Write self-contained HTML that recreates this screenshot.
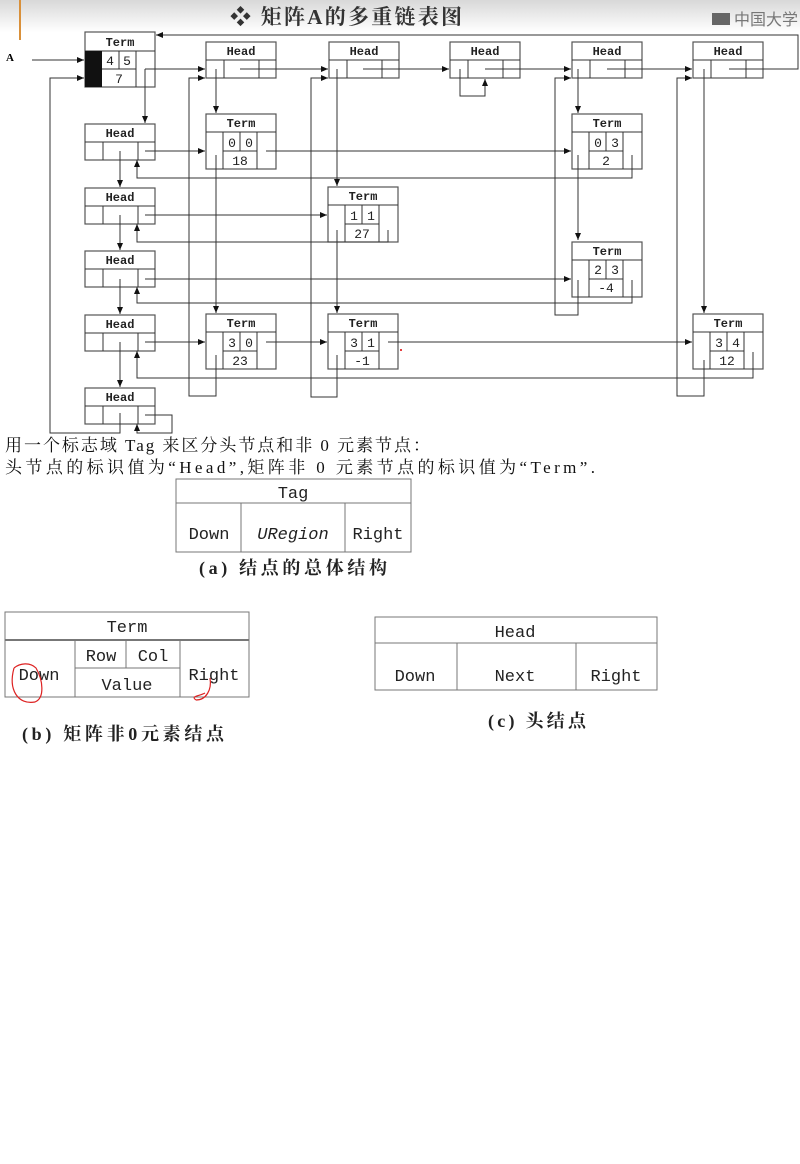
<!DOCTYPE html>
<html><head><meta charset="utf-8"><style>
body{margin:0;background:#fff;width:800px;height:1164px;overflow:hidden}
svg{display:block}
.n{fill:#fff;stroke:#555;stroke-width:1.2}
.l{stroke:#333;stroke-width:1;fill:none}
.t{font-family:"Liberation Mono",monospace;font-weight:bold;font-size:12px;fill:#222;text-anchor:middle}
.v{font-family:"Liberation Mono",monospace;font-size:13px;fill:#222;text-anchor:middle}
.cj{font-family:"Liberation Serif","Noto Serif CJK SC",serif;font-size:17px;fill:#111}
.tb{font-family:"Liberation Mono",monospace;font-size:17px;fill:#222;text-anchor:middle}
.cap{font-family:"Liberation Serif","Noto Serif CJK SC",serif;font-weight:bold;font-size:18px;fill:#222}
</style></head><body>
<svg width="800" height="1164" viewBox="0 0 800 1164" xmlns="http://www.w3.org/2000/svg">
<defs>
<linearGradient id="g" x1="0" y1="0" x2="0" y2="1"><stop offset="0" stop-color="#d8d8d8"/><stop offset="1" stop-color="#fff"/></linearGradient>
<marker id="a" markerWidth="8" markerHeight="8" refX="7" refY="4" orient="auto" markerUnits="userSpaceOnUse"><path d="M0,1 L7,4 L0,7z" fill="#111"/></marker>
</defs>
<rect x="0" y="0" width="800" height="32" fill="url(#g)"/>
<rect x="19" y="0" width="2" height="40" fill="#d9903a"/>
<text x="230" y="24" font-family="Liberation Serif,'Noto Serif CJK SC',serif" font-size="21" font-weight="bold" fill="#333" textLength="232">❖ 矩阵A的多重链表图</text>
<rect x="712" y="13" width="18" height="12" fill="#666"/>
<text x="734" y="25" font-family="'Noto Sans CJK SC',sans-serif" font-size="16" fill="#777">中国大学</text>
<text x="6" y="61" font-family="Liberation Serif,serif" font-weight="bold" font-size="11">A</text>

<rect class="n" x="85" y="32" width="70" height="55"/>
<line class="l" x1="85" y1="51" x2="155" y2="51"/>
<rect x="85" y="51" width="17" height="36" fill="#111"/>
<line class="l" x1="136" y1="51" x2="136" y2="87"/><line class="l" x1="102" y1="69" x2="136" y2="69"/><line class="l" x1="119" y1="51" x2="119" y2="69"/>
<text class="t" x="120" y="46">Term</text><text class="v" x="110" y="65">4</text><text class="v" x="127" y="65">5</text><text class="v" x="119" y="83">7</text>

<g id="h">
<rect class="n" x="206" y="42" width="70" height="36"/>
<line class="l" x1="206" y1="60" x2="276" y2="60"/><line class="l" x1="224" y1="60" x2="224" y2="78"/><line class="l" x1="259" y1="60" x2="259" y2="78"/>
<text class="t" x="241" y="55">Head</text>
</g>
<use href="#h" x="123"/><use href="#h" x="244"/><use href="#h" x="366"/><use href="#h" x="487"/>
<use href="#h" x="-121" y="82"/><use href="#h" x="-121" y="146"/><use href="#h" x="-121" y="209"/><use href="#h" x="-121" y="273"/><use href="#h" x="-121" y="346"/>

<g id="tm">
<rect class="n" x="206" y="114" width="70" height="55"/>
<line class="l" x1="206" y1="132" x2="276" y2="132"/><line class="l" x1="223" y1="132" x2="223" y2="169"/><line class="l" x1="257" y1="132" x2="257" y2="169"/>
<line class="l" x1="223" y1="151" x2="257" y2="151"/><line class="l" x1="240" y1="132" x2="240" y2="151"/>
<text class="t" x="241" y="127">Term</text>
</g>
<use href="#tm" x="366"/><use href="#tm" x="122" y="73"/><use href="#tm" x="366" y="128"/><use href="#tm" y="200"/><use href="#tm" x="122" y="200"/><use href="#tm" x="487" y="200"/>
<g class="v">
<text x="232" y="147">0</text><text x="249" y="147">0</text><text x="240" y="165">18</text>
<text x="598" y="147">0</text><text x="615" y="147">3</text><text x="606" y="165">2</text>
<text x="354" y="220">1</text><text x="371" y="220">1</text><text x="362" y="238">27</text>
<text x="598" y="274">2</text><text x="615" y="274">3</text><text x="606" y="292">-4</text>
<text x="232" y="347">3</text><text x="249" y="347">0</text><text x="240" y="365">23</text>
<text x="354" y="347">3</text><text x="371" y="347">1</text><text x="362" y="365">-1</text>
<text x="719" y="347">3</text><text x="736" y="347">4</text><text x="727" y="365">12</text>
</g>
<circle cx="401" cy="350" r="1" fill="#d00"/>

<g class="l">
<path d="M32,60 H84" marker-end="url(#a)"/>
<path d="M120,413 V433 H50 V78 H84" marker-end="url(#a)"/>
<path d="M145,69 H205" marker-end="url(#a)"/>
<path d="M145,69 V123" marker-end="url(#a)"/>
<path d="M240,69 H328" marker-end="url(#a)"/>
<path d="M363,69 H449" marker-end="url(#a)"/>
<path d="M485,69 H571" marker-end="url(#a)"/>
<path d="M607,69 H692" marker-end="url(#a)"/>
<path d="M729,69 H798 V35 H156" marker-end="url(#a)"/>
<path d="M460,69 V96 H485 V79" marker-end="url(#a)"/>
<path d="M216,355 V396 H189 V78 H205" marker-end="url(#a)"/>
<path d="M337,355 V397 H311 V78 H328" marker-end="url(#a)"/>
<path d="M578,280 V315 H555 V78 H571" marker-end="url(#a)"/>
<path d="M704,360 V396 H677 V78 H692" marker-end="url(#a)"/>
<path d="M216,69 V113" marker-end="url(#a)"/>
<path d="M216,155 V313" marker-end="url(#a)"/>
<path d="M337,69 V186" marker-end="url(#a)"/>
<path d="M337,230 V313" marker-end="url(#a)"/>
<path d="M578,69 V113" marker-end="url(#a)"/>
<path d="M578,155 V240" marker-end="url(#a)"/>
<path d="M704,69 V313" marker-end="url(#a)"/>
<path d="M145,151 H205" marker-end="url(#a)"/>
<path d="M266,151 H571" marker-end="url(#a)"/>
<path d="M632,155 V178 H137 V160" marker-end="url(#a)"/>
<path d="M145,215 H327" marker-end="url(#a)"/>
<path d="M388,230 V242 H137 V224" marker-end="url(#a)"/>
<path d="M145,279 H571" marker-end="url(#a)"/>
<path d="M632,280 V303 H137 V287" marker-end="url(#a)"/>
<path d="M145,342 H205" marker-end="url(#a)"/>
<path d="M266,342 H327" marker-end="url(#a)"/>
<path d="M388,342 H692" marker-end="url(#a)"/>
<path d="M753,352 V378 H137 V351" marker-end="url(#a)"/>
<path d="M145,415 H172 V433 H137 V424" marker-end="url(#a)"/>
<path d="M120,151 V187" marker-end="url(#a)"/>
<path d="M120,215 V250" marker-end="url(#a)"/>
<path d="M120,279 V314" marker-end="url(#a)"/>
<path d="M120,342 V387" marker-end="url(#a)"/>
</g>

<text class="cj" x="5" y="451" textLength="425">用一个标志域 Tag 来区分头节点和非 0 元素节点：</text>
<text class="cj" x="5" y="473" textLength="590">头节点的标识值为“Head”,矩阵非 0 元素节点的标识值为“Term”.</text>

<g class="l" style="stroke:#777">
<rect x="176" y="479" width="235" height="73"/><line x1="176" y1="503" x2="411" y2="503"/><line x1="241" y1="503" x2="241" y2="552"/><line x1="345" y1="503" x2="345" y2="552"/>
</g>
<text class="tb" x="293" y="498">Tag</text><text class="tb" x="209" y="539">Down</text><text class="tb" x="293" y="539" font-style="italic">URegion</text><text class="tb" x="378" y="539">Right</text>
<text class="cap" x="199" y="574" textLength="188">(a) 结点的总体结构</text>

<g class="l" style="stroke:#777">
<rect x="5" y="612" width="244" height="85"/><line x1="5" y1="640" x2="249" y2="640" style="stroke-width:2"/><line x1="75" y1="640" x2="75" y2="697"/><line x1="180" y1="640" x2="180" y2="697"/><line x1="75" y1="668" x2="180" y2="668"/><line x1="126" y1="640" x2="126" y2="668"/>
</g>
<text class="tb" x="127" y="632">Term</text><text class="tb" x="101" y="661">Row</text><text class="tb" x="153" y="661">Col</text><text class="tb" x="127" y="690">Value</text><text class="tb" x="39" y="680">Down</text><text class="tb" x="214" y="680">Right</text>
<path d="M14,668 C8,690 18,705 35,702 C45,698 43,680 36,668 C30,662 20,663 14,668" fill="none" stroke="#d22" stroke-width="1.2"/>
<path d="M196,700 C206,700 212,690 210,678 M196,700 C190,696 200,696 205,693" fill="none" stroke="#d22" stroke-width="1.2"/>
<text class="cap" x="22" y="740" textLength="202">(b) 矩阵非0元素结点</text>

<g class="l" style="stroke:#777">
<rect x="375" y="617" width="282" height="73"/><line x1="375" y1="643" x2="657" y2="643"/><line x1="457" y1="643" x2="457" y2="690"/><line x1="576" y1="643" x2="576" y2="690"/>
</g>
<text class="tb" x="515" y="637">Head</text><text class="tb" x="415" y="681">Down</text><text class="tb" x="515" y="681">Next</text><text class="tb" x="616" y="681">Right</text>
<text class="cap" x="488" y="727" textLength="98">(c) 头结点</text>
</svg>
</body></html>
